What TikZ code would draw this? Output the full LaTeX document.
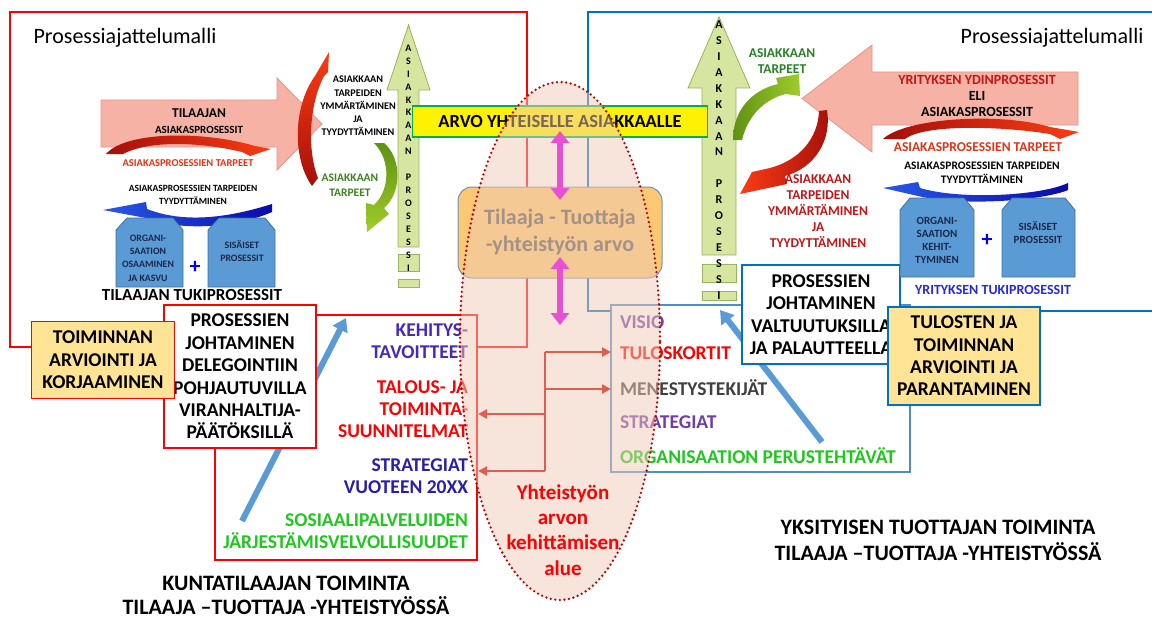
\documentclass[tikz,border=0pt]{standalone}
\usepackage{fontspec}
\setmainfont{Carlito}
\usetikzlibrary{arrows.meta}
\newcommand{\myfs}[2]{\fontsize{#1}{#2}\selectfont\bfseries}
\definecolor{pinkfill}{RGB}{245,178,165}
\definecolor{pinkdraw}{RGB}{228,150,140}
\definecolor{limefill}{RGB}{214,230,160}
\definecolor{limedraw}{RGB}{150,180,90}
\definecolor{boxblue}{RGB}{91,155,213}
\definecolor{boxblued}{RGB}{65,113,156}
\definecolor{frred}{RGB}{255,0,0}
\definecolor{frblue}{RGB}{0,112,192}
\definecolor{ltblue}{RGB}{80,140,200}
\definecolor{yelbox}{RGB}{255,228,150}
\definecolor{navytxt}{RGB}{25,40,75}
\definecolor{dkred}{RGB}{200,20,20}
\definecolor{brred}{RGB}{230,50,20}
\definecolor{olivegrn}{RGB}{60,130,30}
\definecolor{dkgrn}{RGB}{40,130,40}
\definecolor{purpl}{RGB}{70,40,190}
\definecolor{purp2}{RGB}{112,60,170}
\definecolor{navyb}{RGB}{40,30,170}
\definecolor{brgrn}{RGB}{30,200,30}
\definecolor{txgray}{RGB}{64,64,64}
\definecolor{tukiblue}{RGB}{40,40,225}
\definecolor{magarr}{RGB}{232,80,212}
\definecolor{coral}{RGB}{220,95,80}
\definecolor{ellfill}{RGB}{240,203,182}
\definecolor{ellred}{RGB}{192,0,0}
\definecolor{ttgray}{RGB}{89,89,89}
\definecolor{orgbox}{RGB}{252,200,115}
\definecolor{orgdraw}{RGB}{110,145,190}
\definecolor{steel}{RGB}{91,155,213}
\definecolor{arvogrn}{RGB}{0,176,80}
\definecolor{crdark}{RGB}{165,15,10}
\definecolor{crlight}{RGB}{250,60,20}
\definecolor{grdark}{RGB}{95,145,20}
\definecolor{grlight}{RGB}{160,205,40}
\definecolor{bllight}{RGB}{40,90,230}
\definecolor{bldark}{RGB}{10,10,170}
\tikzset{
 tx/.style={align=center, inner sep=0pt, outer sep=0pt},
 pinkarrow/.style={fill=pinkfill, draw=pinkdraw, line width=0.8pt},
 limearrow/.style={fill=limefill, draw=limedraw, line width=0.8pt},
 bluebox/.style={fill=boxblue, draw=boxblued, line width=0.8pt},
 redframe/.style={draw=frred, line width=1.5pt},
 blueframe/.style={draw=frblue, line width=1.5pt},
 steelarrow/.style={draw=steel, line width=6pt, -{Triangle[length=13pt,width=16pt]}},
 magarrow/.style={draw=magarr, line width=6pt, {Triangle[length=12pt,width=18pt]}-{Triangle[length=12pt,width=18pt]}},
 coralline/.style={draw=coral, line width=2.6pt},
 coralarrow/.style={coralline, -{Triangle[length=9pt,width=9pt]}},
 boxtxt/.style={tx, font=\myfs{19.5}{22.4}},
 lowtxt/.style={tx, font=\myfs{19.5}{22}},
}
\begin{document}
\begin{tikzpicture}[x=1pt,y=-1pt]
\useasboundingbox (0,0) rectangle (1152,618);
\fill[white] (0,0) rectangle (1152,618);

% frames
\draw[redframe] (10,12) rectangle (527,347);
\draw[blueframe] (1152,311) -- (588,311) -- (588,12) -- (1152,12);

% lower boxes
\draw[redframe, fill=white] (215,315) rectangle (477,560);
\draw[draw=ltblue, line width=1.5pt, fill=white] (611,305) rectangle (910,472);

\node[lowtxt, anchor=east, align=right, text=purpl] (kehitys) at (468,341) {KEHITYS-\\TAVOITTEET};
\node[lowtxt, anchor=east, align=right, text=frred] (talous) at (468,409) {TALOUS- JA\\TOIMINTA-\\SUUNNITELMAT};
\node[lowtxt, anchor=east, align=right, text=navyb] (strat) at (468,476) {STRATEGIAT\\VUOTEEN 20XX};
\node[lowtxt, anchor=east, align=right, text=brgrn] (sosiaali) at (468,531) {SOSIAALIPALVELUIDEN\\JÄRJESTÄMISVELVOLLISUUDET};

\node[lowtxt, anchor=west, text=purp2] (visio) at (620,322) {VISIO};
\node[lowtxt, anchor=west, text=frred] (tuloskortit) at (620,353) {TULOSKORTIT};
\node[lowtxt, anchor=west, text=txgray] (menestys) at (620,388) {MENESTYSTEKIJÄT};
\node[lowtxt, anchor=west, text=purp2] (strat2) at (620,422) {STRATEGIAT};
\node[lowtxt, anchor=west, text=brgrn] (perus) at (620,456) {ORGANISAATION PERUSTEHTÄVÄT};

% steel arrows
\coordinate (la1) at (242,521); \coordinate (la2) at (346,318);
\draw[steelarrow] (la1) -- (la2);
\coordinate (ra1) at (822,442); \coordinate (ra2) at (720,310);
\draw[steelarrow] (ra1) -- (ra2);

% management boxes
\node[boxtxt, draw=frred, fill=white, line width=1.5pt, minimum width=152pt, minimum height=143pt] (johtL) at (240,376.5) {PROSESSIEN\\JOHTAMINEN\\DELEGOINTIIN\\POHJAUTUVILLA\\VIRANHALTIJA-\\PÄÄTÖKSILLÄ};
\node[boxtxt, draw=frred, fill=yelbox, line width=1.5pt, minimum width=143pt, minimum height=77pt] (toimL) at (103,360) {TOIMINNAN\\ARVIOINTI JA\\KORJAAMINEN};
\node[boxtxt, draw=frblue, fill=white, line width=1.5pt, minimum width=158pt, minimum height=99pt] (johtR) at (821,314.5) {PROSESSIEN\\JOHTAMINEN\\VALTUUTUKSILLA\\JA PALAUTTEELLA};
\node[boxtxt, draw=frblue, fill=yelbox, line width=1.5pt, minimum width=152pt, minimum height=98pt] (tulosR) at (964,356) {TULOSTEN JA\\TOIMINNAN\\ARVIOINTI JA\\PARANTAMINEN};

% titles
\node[tx, font=\fontsize{22}{26}\selectfont] (titL) at (125,38) {Prosessiajattelumalli};
\node[tx, font=\fontsize{22}{26}\selectfont] (titR) at (1052,38) {Prosessiajattelumalli};

% ---------- left upper model ----------
\draw[pinkarrow] (101,100) -- (277,100) -- (277,78) -- (322,124) -- (277,170) -- (277,147) -- (101,147) -- cycle;
\node[tx, font=\myfs{11}{16}] (tilAs) at (199,121) {{\fontsize{13.5}{16}\selectfont TILAAJAN}\\ASIAKASPROSESSIT};
\shade[left color=crdark, right color=crlight] (106,154) .. controls (125,132) and (200,130) .. (255,146) -- (271,149) -- (250,156) -- (242,152) .. controls (200,142) and (150,140) .. (123,154) -- cycle;
\node[tx, font=\myfs{10.5}{13}, text=brred] (apTarL) at (188,163) {ASIAKASPROSESSIEN TARPEET};
\node[tx, font=\myfs{9.5}{13.5}] (apTydL) at (193,195) {ASIAKASPROSESSIEN TARPEIDEN\\TYYDYTTÄMINEN};
\shade[left color=bllight, right color=bldark] (272,204) .. controls (240,214) and (190,226) .. (147,209) -- (146,202) -- (103,210) -- (146,218) .. controls (190,234) and (245,224) .. (272,212) -- cycle;
\draw[bluebox] (116,287) -- (116,230) -- (127,218) -- (173,218) -- (183,230) -- (183,287) -- cycle;
\draw[bluebox] (208,287) -- (208,230) -- (219,218) -- (265,218) -- (275,230) -- (275,287) -- cycle;
\node[tx, font=\myfs{9.8}{13.3}, text=navytxt] (orgL) at (148,258) {ORGANI-\\SAATION\\OSAAMINEN\\JA KASVU};
\node[tx, font=\myfs{9.8}{13.3}, text=navytxt] (sisL) at (242,251) {SISÄISET\\PROSESSIT};
\node[tx, font=\myfs{22}{22}, text=blue] (plusL) at (195,267) {+};
\node[tx, font=\myfs{17}{20}] (tukiL) at (192,295) {TILAAJAN TUKIPROSESSIT};

\shade[bottom color=crdark, top color=crlight] (312,186) .. controls (293,160) and (292,108) .. (315,76) -- (329,52) -- (328,72) -- (324,76) .. controls (309,105) and (307,150) .. (318,178) -- cycle;
\shade[top color=grdark, bottom color=grlight] (384,143) .. controls (402,158) and (402,193) .. (384,208) -- (389,214) -- (367,232) -- (366,203) -- (374,205) .. controls (390,190) and (391,160) .. (374,143) -- cycle;
\node[tx, font=\myfs{10.2}{13.3}] (ymmL) at (358,106) {ASIAKKAAN\\TARPEIDEN\\YMMÄRTÄMINEN\\JA\\TYYDYTTÄMINEN};
\node[tx, font=\myfs{11.5}{14.5}, text=olivegrn] (tarL) at (350,185) {ASIAKKAAN\\TARPEET};

\draw[limearrow] (398,247) -- (398,90) -- (387,90) -- (408.5,25) -- (430,90) -- (419,90) -- (419,247) -- cycle;
\draw[limearrow] (398,254) rectangle (419,271);
\draw[limearrow] (398,279) rectangle (419,287);
\node[tx, font=\myfs{10}{12.94}] (vlL) at (408.5,158) {A\\S\\I\\A\\K\\K\\A\\A\\N\\\mbox{}\\P\\R\\O\\S\\E\\S\\S\\I};

% ---------- right upper model ----------
\draw[pinkarrow] (1078,72) -- (872,72) -- (872,45) -- (802,98.5) -- (872,152) -- (872,125) -- (1078,125) -- cycle;
\node[tx, font=\myfs{14}{16}] (ydin) at (977,96) {\textcolor{dkred}{YRITYKSEN YDINPROSESSIT}\\ELI\\ASIAKASPROSESSIT};
\shade[left color=crdark, right color=crlight] (883,139) .. controls (905,118) and (1000,112) .. (1050,127) -- (1079,132) -- (1060,139) -- (1050,134) .. controls (1000,126) and (925,124) .. (905,139) -- cycle;
\node[tx, font=\myfs{13.5}{16}, text=brred] (apTarR) at (978,147) {ASIAKASPROSESSIEN TARPEET};
\node[tx, font=\myfs{11.5}{14}] (apTydR) at (982,173) {ASIAKASPROSESSIEN TARPEIDEN\\TYYDYTTÄMINEN};
\shade[left color=bllight, right color=bldark] (1068,183) .. controls (1040,196) and (960,200) .. (920,188) -- (918,182) -- (883,188) -- (918,196) .. controls (965,207) and (1045,200) .. (1068,190) -- cycle;
\draw[bluebox] (900,277) -- (900,210) -- (910,198) -- (964,198) -- (974,210) -- (974,277) -- cycle;
\draw[bluebox] (1002,277) -- (1002,210) -- (1012,198) -- (1065,198) -- (1075,210) -- (1075,277) -- cycle;
\node[tx, font=\myfs{11}{13}, text=navytxt] (orgR) at (937,240) {ORGANI-\\SAATION\\KEHIT-\\TYMINEN};
\node[tx, font=\myfs{11}{13}, text=navytxt] (sisR) at (1038,233) {SISÄISET\\PROSESSIT};
\node[tx, font=\myfs{22}{22}, text=blue] (plusR) at (987,240) {+};
\node[tx, font=\myfs{14}{17}, text=tukiblue] (tukiR) at (993,290) {YRITYKSEN TUKIPROSESSIT};

\draw[limearrow] (702,255) -- (702,88) -- (688,88) -- (719,17) -- (750,88) -- (736,88) -- (736,255) -- cycle;
\draw[limearrow] (702,264) rectangle (736,282);
\draw[limearrow] (702,291) rectangle (736,300);
\node[tx, font=\myfs{12}{15.9}] (vlR) at (719,160) {A\\S\\I\\A\\K\\K\\A\\A\\N\\\mbox{}\\P\\R\\O\\S\\E\\S\\S\\I};

\shade[left color=grdark, right color=grlight] (733,140) .. controls (733,110) and (752,90) .. (778,84) -- (776,78) -- (799,74) -- (800,96) -- (786,94) .. controls (765,99) and (748,115) .. (742,140) -- cycle;
\shade[right color=crdark, left color=crlight] (827,110) .. controls (832,140) and (815,168) .. (785,176) -- (787,184) -- (740,194) -- (752,172) -- (770,168) .. controls (800,160) and (818,138) .. (819,111) -- cycle;
\node[tx, font=\myfs{13.5}{15.7}, text=dkgrn] (tarR) at (782,61) {ASIAKKAAN\\TARPEET};
\node[tx, font=\myfs{13.5}{16}, text=dkred] (ymmR) at (818,211) {ASIAKKAAN\\TARPEIDEN\\YMMÄRTÄMINEN\\JA\\TYYDYTTÄMINEN};

% ---------- centre ----------
\node[tx, draw=arvogrn, fill=yellow, line width=1.5pt, minimum width=295pt, minimum height=31pt, font=\myfs{18.5}{22}] (arvo) at (560,121.5) {ARVO YHTEISELLE ASIAKKAALLE};
\node[tx, draw=orgdraw, fill=orgbox, line width=1pt, rounded corners=14pt, minimum width=204pt, minimum height=91pt, font=\myfs{22}{27}, text=ttgray] (tt) at (560,232.5) {Tilaaja - Tuottaja\\-yhteistyön arvo};

\fill[ellfill, fill opacity=0.5] (560,341) ellipse [x radius=100pt, y radius=259pt];
\draw[ellred, line width=2.6pt, line cap=round, dash pattern=on 0pt off 4.6pt] (560,341) ellipse [x radius=100pt, y radius=259pt];

\coordinate (m2) at (560,325);
\draw[magarrow, shorten <=-6pt, shorten >=-13pt] (arvo.south) -- (tt.north);
\draw[magarrow, shorten <=-21pt] (tt.south) -- (m2);

\coordinate (jt) at (545,352); \coordinate (j2) at (545,389);
\coordinate (j3) at (545,414); \coordinate (jb) at (545,471);
\coordinate (tulosIn) at (611,352); \coordinate (menIn) at (611,389);
\coordinate (talIn) at (478,414); \coordinate (strIn) at (478,471);
\draw[coralline] (jt) -- (jb);
\draw[coralarrow] (jt) -- (tulosIn);
\draw[coralarrow] (j2) -- (menIn);
\draw[coralarrow] (j3) -- (talIn);
\draw[coralarrow] (jb) -- (strIn);

\node[tx, font=\myfs{21}{25.3}, text=frred] (yht) at (563,530) {Yhteistyön\\arvon\\kehittämisen\\alue};

\node[tx, anchor=base, font=\myfs{22}{24}] (kunta) at (286,614.5) {KUNTATILAAJAN TOIMINTA\\TILAAJA –TUOTTAJA -YHTEISTYÖSSÄ};
\node[tx, anchor=base, font=\myfs{22}{25.5}] (yksit) at (938,560) {YKSITYISEN TUOTTAJAN TOIMINTA\\TILAAJA –TUOTTAJA -YHTEISTYÖSSÄ};
\end{tikzpicture}
\end{document}
